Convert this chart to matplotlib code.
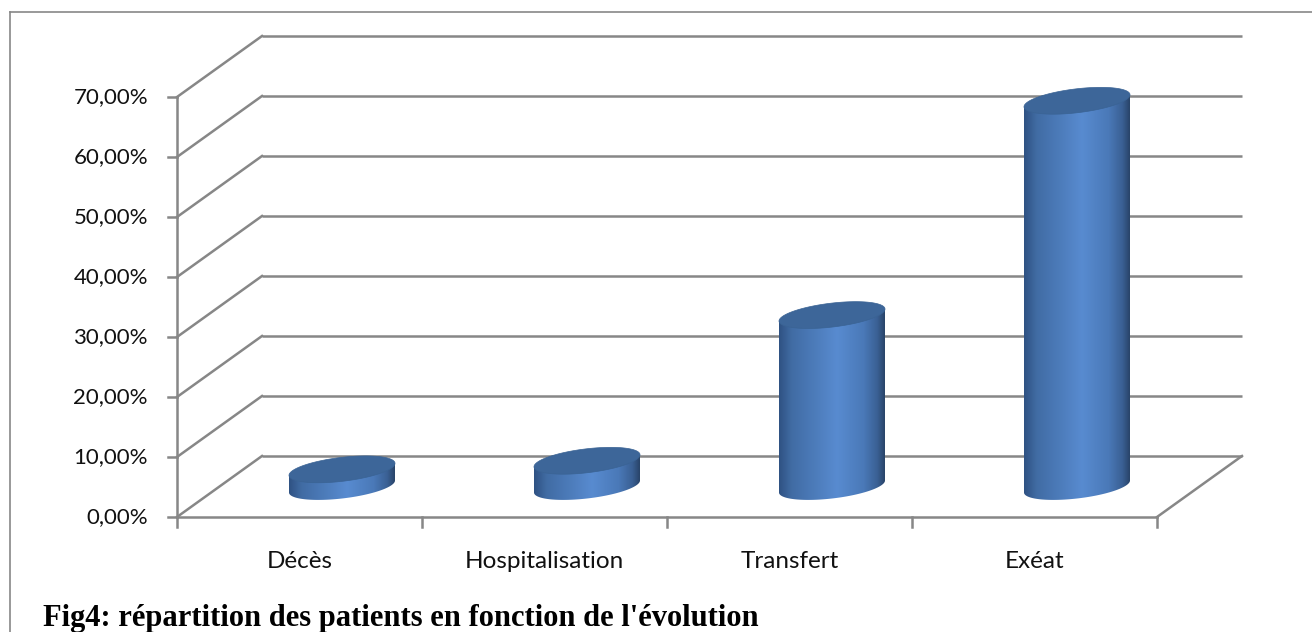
import numpy as np
import matplotlib
matplotlib.use("Agg")
import matplotlib.pyplot as plt
from matplotlib.colors import LinearSegmentedColormap
from matplotlib.patches import Polygon
from matplotlib.lines import Line2D

# ---------------- data ----------------
categories = ["Décès", "Hospitalisation", "Transfert", "Exéat"]
values = [2.86, 4.29, 28.57, 64.29]          # percent
y_ticks = [0, 10, 20, 30, 40, 50, 60, 70]
y_tick_labels = ["0,00%", "10,00%", "20,00%", "30,00%", "40,00%", "50,00%", "60,00%", "70,00%"]
title = "Fig4: répartition des patients en fonction de l'évolution"

# ---------------- geometry / style ----------------
W, H, DPI = 1312, 632, 100
PX_X = 245.0      # pixels per category
PX_Y = 6.0        # pixels per percent
X0_PX, Y0_PX = 177, 517   # pixel position of (0, 0%) front corner
DX = 85 / PX_X    # depth offset (categories)
DY = 61 / PX_Y    # depth offset (percent)
GRID = "#878787"
LW = 1.8

fig = plt.figure(figsize=(W / DPI, H / DPI), dpi=DPI)
ax = fig.add_axes([0, 0, 1, 1])
ax.set_xlim(-X0_PX / PX_X, (W - X0_PX) / PX_X)
ax.set_ylim(-(H - Y0_PX) / PX_Y, Y0_PX / PX_Y)
ax.axis("off")

n = len(categories)
ymax = y_ticks[-1]

# back wall gridlines and left wall diagonals
for t in y_ticks:
    ax.plot([DX, n + DX], [t + DY, t + DY], color=GRID, lw=LW, solid_capstyle="butt", zorder=1)
    ax.plot([0, DX], [t, t + DY], color=GRID, lw=LW, zorder=1)
    ax.plot([-9 / PX_X, 0], [t, t], color=GRID, lw=LW, zorder=1)
# front vertical axis
ax.plot([0, 0], [0, ymax], color=GRID, lw=LW, zorder=1)
# floor edges
ax.plot([0, n], [0, 0], color=GRID, lw=LW, zorder=1)
ax.plot([n, n + DX], [0, DY], color=GRID, lw=LW, zorder=1)
for i in range(n + 1):
    ax.plot([i, i], [0, -10 / PX_Y], color=GRID, lw=LW, zorder=1)

# tick labels
for t, lab in zip(y_ticks, y_tick_labels):
    ax.text(-29 / PX_X, t, lab, ha="right", va="center", fontsize=16,
            family="Lato", color="#111111")
for i, c in enumerate(categories):
    ax.text(i + 0.5, -45 / PX_Y, c, ha="center", va="center", fontsize=17.5,
            family="Lato", color="#111111")

# cylinders
cmap = LinearSegmentedColormap.from_list(
    "cyl",
    [(0.0, "#2f5283"), (0.12, "#416ca4"), (0.55, "#588bd0"),
     (0.80, "#4a79b8"), (0.93, "#3a6094"), (1.0, "#294469")])
a = 53 / PX_X          # half width (categories)
b = 12 / PX_Y          # half height of ellipse (percent)
s = 6 / PX_Y           # tilt of ellipse (percent)
tt = np.linspace(0, 2 * np.pi, 200)
grad = np.linspace(0, 1, 256).reshape(1, -1)
for i, v in enumerate(values):
    cx = i + 0.5 + DX / 2
    yb = DY / 2
    yt = DY / 2 + v
    tf = np.linspace(0, -np.pi, 100)
    xt = cx + a * np.cos(tf)
    bot_front = yb + b * np.sin(tf) + s * np.cos(tf)
    body = np.vstack([
        np.column_stack([[cx + a], [yt + s]]),
        np.column_stack([[cx - a], [yt - s]]),
        np.column_stack([xt[::-1], bot_front[::-1]]),
    ])
    poly = Polygon(body, closed=True, facecolor="none", edgecolor="none", zorder=3)
    ax.add_patch(poly)
    im = ax.imshow(grad, cmap=cmap, aspect="auto",
                   extent=[cx - a, cx + a, yb - b - s - 1, yt + b + s + 1],
                   zorder=3, interpolation="bilinear")
    im.set_clip_path(poly)
    # top ellipse
    ex = cx + a * np.cos(tt)
    ey = yt + b * np.sin(tt) + s * np.cos(tt)
    ax.add_patch(Polygon(np.column_stack([ex, ey]), closed=True,
                         facecolor="#3d6699", edgecolor="#3a6394", lw=0.5, zorder=4))

# title
ax.text(-134 / PX_X, -109 / PX_Y, title, ha="left", va="baseline", fontsize=22,
        family="Liberation Serif", fontweight="bold", color="black")

# outer frame
fig.add_artist(Line2D([10 / W, 1.0], [1 - 12 / H, 1 - 12 / H], color=GRID, lw=1.2,
                      transform=fig.transFigure))
fig.add_artist(Line2D([10 / W, 10 / W], [0, 1 - 12 / H], color=GRID, lw=1.2,
                      transform=fig.transFigure))

fig.savefig("out.png", dpi=DPI)
